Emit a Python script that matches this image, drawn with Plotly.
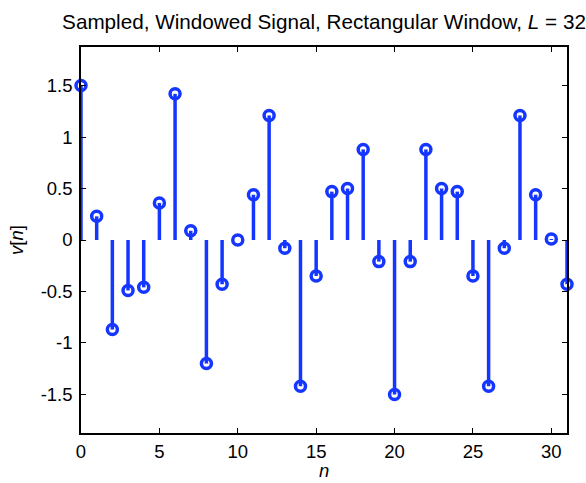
import plotly.graph_objects as go

# Sample index and windowed signal values v[n], rectangular window of length 32
n = list(range(32))
v = [1.50, 0.23, -0.87, -0.49, -0.46, 0.36, 1.42, 0.09,
     -1.20, -0.43, 0.00, 0.44, 1.21, -0.08, -1.42, -0.35,
     0.47, 0.50, 0.88, -0.21, -1.50, -0.21, 0.88, 0.50,
     0.47, -0.35, -1.42, -0.08, 1.21, 0.44, 0.01, -0.43]

x_ticks = [0, 5, 10, 15, 20, 25, 30]
y_ticks = [-1.5, -1, -0.5, 0, 0.5, 1, 1.5]
y_tick_text = ["-1.5", "-1", "-0.5", "0", "0.5", "1", "1.5"]

STEM_COLOR = "#1536ff"
FONT = "Liberation Sans, Arial, Helvetica, sans-serif"

# Stems: vertical segments from 0 to each sample value, broken by None
stem_x, stem_y = [], []
for xi, yi in zip(n, v):
    stem_x += [xi, xi, None]
    stem_y += [0, yi, None]

fig = go.Figure()
fig.add_trace(go.Scatter(
    x=stem_x, y=stem_y, mode="lines",
    line=dict(color=STEM_COLOR, width=3.5),
    hoverinfo="skip", showlegend=False, cliponaxis=False,
))
fig.add_trace(go.Scatter(
    x=n, y=v, mode="markers",
    marker=dict(symbol="circle-open", size=10, color=STEM_COLOR,
                line=dict(width=3.5, color=STEM_COLOR)),
    showlegend=False, cliponaxis=False,
))

axis_common = dict(
    showline=True, linecolor="black", linewidth=1.5, mirror="ticks",
    ticks="inside", ticklen=5, tickwidth=1, tickcolor="black",
    showgrid=False, zeroline=False, automargin=False,
    tickfont=dict(family=FONT, size=18.5, color="black"),
)

fig.update_layout(
    width=586, height=483,
    margin=dict(l=81, r=19, t=47, b=50),
    paper_bgcolor="white", plot_bgcolor="white",
    font=dict(family=FONT, color="black"),
    title=dict(
        text="Sampled, Windowed Signal, Rectangular Window, <i>L</i> = 32",
        x=0.5, xref="paper", xanchor="center",
        y=1 - 22 / 483, yref="container", yanchor="middle",
        font=dict(family=FONT, size=20.7, color="black"),
    ),
    xaxis=dict(range=[0, 31], tickvals=x_ticks, ticklabelstandoff=1, **axis_common),
    yaxis=dict(
        range=[-1.875, 1.875], tickvals=y_ticks, ticktext=y_tick_text,
        ticklabelstandoff=3,
        title=dict(text="<i>v</i>[<i>n</i>]", font=dict(family=FONT, size=18.5), standoff=12),
        **axis_common,
    ),
)

# x-axis label placed below the tick labels, flush with the bottom edge
fig.add_annotation(
    text="<i>n</i>", xref="paper", yref="paper", x=0.5, y=-50 / 386,
    xanchor="center", yanchor="bottom", showarrow=False,
    font=dict(family=FONT, size=18.5, color="black"),
)

fig.write_html("out.html")
